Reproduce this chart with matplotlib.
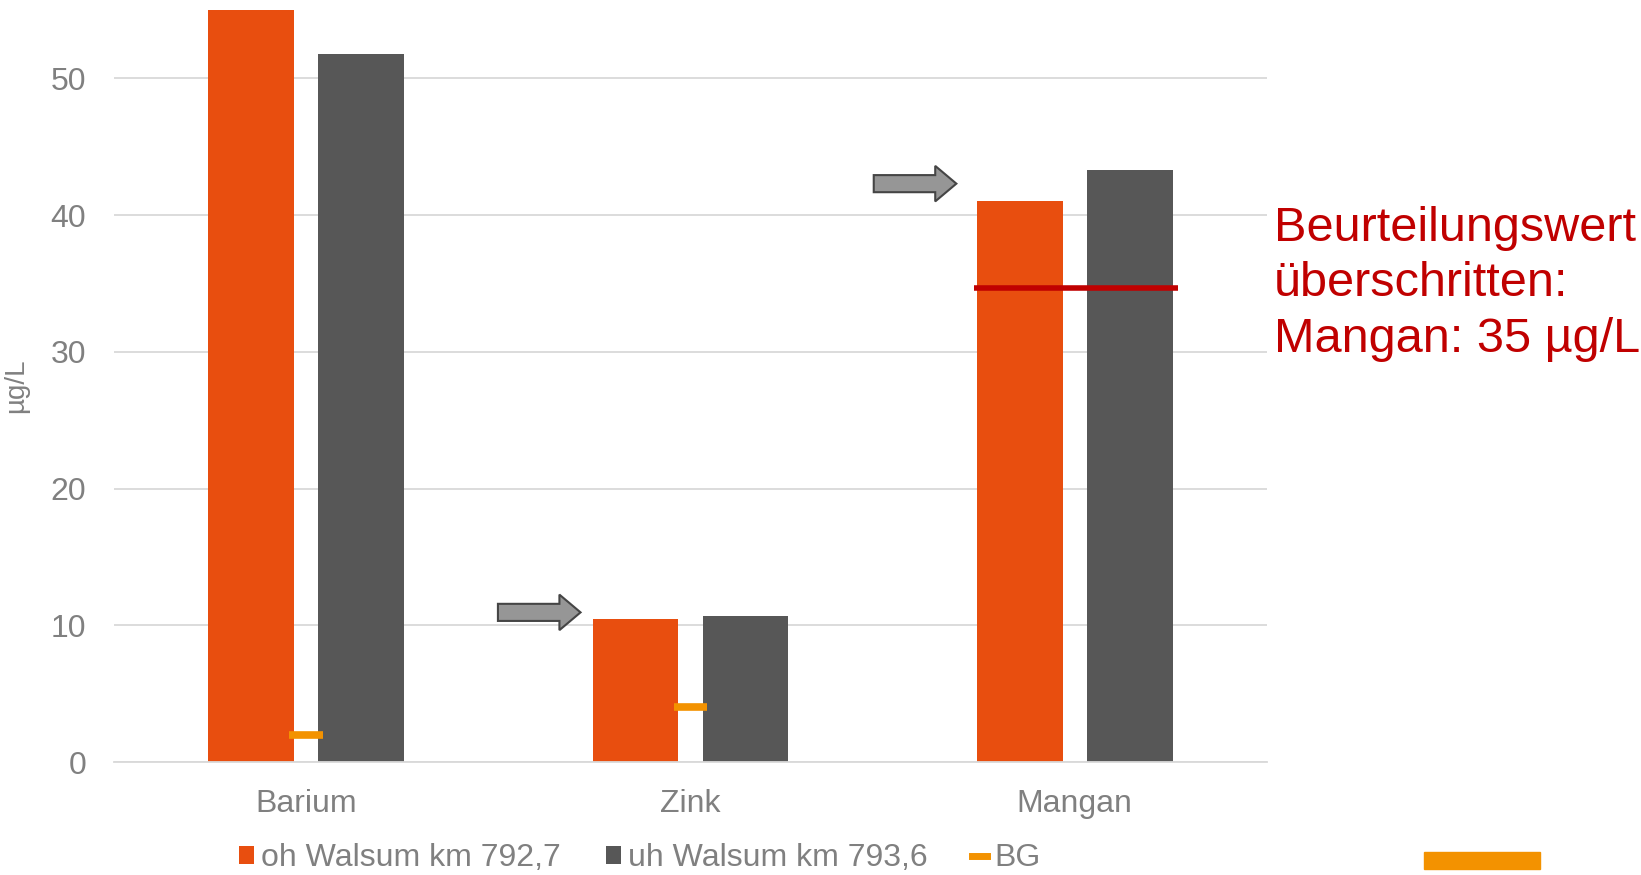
import numpy as np
import matplotlib.pyplot as plt
from matplotlib.patches import Patch, FancyArrow, Rectangle
from matplotlib.lines import Line2D

plt.rcParams['font.family'] = ['Liberation Sans', 'DejaVu Sans']

categories = ['Barium', 'Zink', 'Mangan']
oh_walsum = [55.0, 10.5, 41.0]
uh_walsum = [51.8, 10.7, 43.3]
bg_values = [2.0, 4.0, np.nan]
threshold_line = 34.7   # as drawn in the slide (Beurteilungswert 35 µg/L)
series_names = ['oh Walsum km 792,7', 'uh Walsum km 793,6', 'BG']

ORANGE = '#E84E0F'
GRAY = '#575757'
BG_COLOR = '#F39200'
RED = '#C00000'
TEXT = '#808080'

fig = plt.figure(figsize=(16.41, 8.75), dpi=100)
ax = fig.add_axes([0.0695, 0.129, 0.7025, 0.8596])

x = np.arange(len(categories))
width = 0.223
ax.bar(x - 0.143, oh_walsum, width, color=ORANGE, zorder=2)
ax.bar(x + 0.143, uh_walsum, width, color=GRAY, zorder=2)

# BG markers (short dashes at category centre)
for xi, bg in zip(x, bg_values):
    if not np.isnan(bg):
        ax.hlines(bg, xi - 0.044, xi + 0.044, color=BG_COLOR, lw=5.5, zorder=3)

# threshold line for Mangan
ax.hlines(threshold_line, 1.738, 2.27, color=RED, lw=4, zorder=4)

# gray pointer arrows
for ax_x, ax_y in [(0.499, 10.95), (1.477, 42.3)]:
    arr = FancyArrow(ax_x, ax_y, 0.215, 0, width=1.25, head_width=2.6,
                     head_length=0.055, length_includes_head=True,
                     facecolor='#969696', edgecolor='#454545', lw=1.5, zorder=5)
    ax.add_patch(arr)

ax.set_xlim(-0.5, 2.5)
ax.set_ylim(0, 55)
ax.set_yticks([0, 10, 20, 30, 40, 50])
ax.set_xticks(x)
ax.set_xticklabels(categories)
ax.tick_params(axis='both', length=0, labelsize=23, colors=TEXT)
ax.tick_params(axis='x', pad=19)
ax.tick_params(axis='y', pad=20)
ax.grid(axis='y', color='#D9D9D9', lw=1.3, zorder=0)
ax.set_axisbelow(True)
for s in ['top', 'right', 'left']:
    ax.spines[s].set_visible(False)
ax.spines['bottom'].set_color('#D9D9D9')
ax.spines['bottom'].set_linewidth(1.3)
ax.set_ylabel('µg/L', fontsize=20, color=TEXT)
ax.yaxis.set_label_coords(-0.074, 0.5)

handles = [Patch(facecolor=ORANGE), Patch(facecolor=GRAY),
           Line2D([0], [0], color=BG_COLOR, lw=5)]
fig.legend(handles, series_names, loc='center', bbox_to_anchor=(0.39, 0.019),
           ncol=3, frameon=False, fontsize=23, labelcolor=TEXT,
           handlelength=0.46, handleheight=0.5, handletextpad=0.23,
           columnspacing=1.4, borderpad=0)

fig.text(0.7765, 0.765, 'Beurteilungswert\nüberschritten:\nMangan: 35 µg/L',
         color=RED, fontsize=35, va='top', ha='left', linespacing=1.31)

# slide decoration bottom right
fig.patches.append(Rectangle((1424 / 1641, 6 / 875), 116 / 1641, 17 / 875,
                             transform=fig.transFigure, color=BG_COLOR))

fig.savefig('out.png', dpi=100)
